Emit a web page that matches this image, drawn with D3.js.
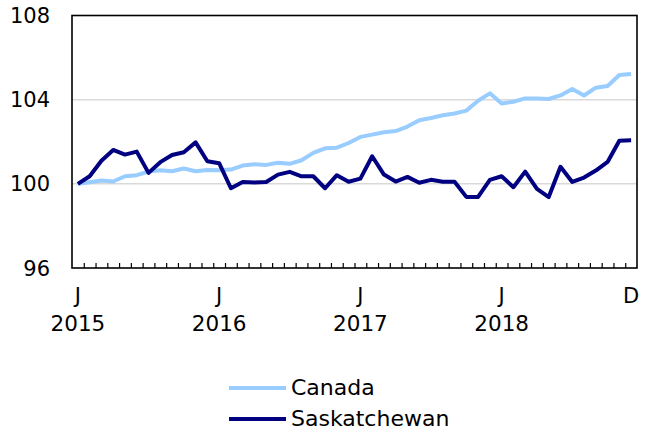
<!DOCTYPE html>
<html>
<head>
<meta charset="utf-8">
<script src="https://cdn.jsdelivr.net/npm/d3@7"></script>
<style>
  body { margin: 0; background: #fff; }
  svg text { font-family: "DejaVu Sans", Verdana, sans-serif; fill: #000; }
</style>
</head>
<body>
<figure style="margin:0"></figure>
<script>
// monthly index, Jan 2015 = 100
const months = d3.range(48).map(i => new Date(2015, i, 1));
const canada = [100, 100.08, 100.16, 100.11, 100.36, 100.41, 100.58, 100.65, 100.6, 100.73, 100.6, 100.66,
  100.65, 100.68, 100.87, 100.93, 100.9, 101.0, 100.95, 101.12, 101.47, 101.69, 101.72, 101.94,
  102.23, 102.34, 102.45, 102.51, 102.72, 103.02, 103.13, 103.26, 103.34, 103.48, 103.95, 104.3,
  103.82, 103.9, 104.06, 104.06, 104.03, 104.2, 104.51, 104.2, 104.57, 104.65, 105.17, 105.22];
const saskatchewan = [100, 100.36, 101.1, 101.61, 101.39, 101.53, 100.52, 101.03, 101.37, 101.5, 101.97, 101.07,
  100.98, 99.79, 100.09, 100.06, 100.09, 100.44, 100.57, 100.36, 100.36, 99.79, 100.41, 100.1,
  100.25, 101.31, 100.44, 100.11, 100.33, 100.05, 100.19, 100.1, 100.1, 99.38, 99.38, 100.19,
  100.36, 99.84, 100.58, 99.76, 99.37, 100.81, 100.09, 100.3, 100.63, 101.04, 102.05, 102.07];
const yTicks = [96, 100, 104, 108];
const xLabels = [
  {i: 0, top: 'J', bottom: '2015'},
  {i: 12, top: 'J', bottom: '2016'},
  {i: 24, top: 'J', bottom: '2017'},
  {i: 36, top: 'J', bottom: '2018'},
  {i: 47, top: 'D', bottom: ''}
];
const series = [
  {name: 'Canada', values: canada, color: '#99ccff'},
  {name: 'Saskatchewan', values: saskatchewan, color: '#000080'}
];

(() => {
  const totalWidth = 647;
  const totalHeight = 433;
  const margin = {top: 15.5, right: 10, bottom: 165, left: 72};
  const graphWidth = totalWidth - margin.left - margin.right;
  const graphHeight = totalHeight - margin.top - margin.bottom;

  const svg = d3.select('figure').append('svg')
    .attr('width', totalWidth)
    .attr('height', totalHeight);

  const g = svg.append('g').attr('transform', 'translate(' + margin.left + ',' + margin.top + ')');

  const x = d3.scaleLinear()
    .domain([-0.5, months.length - 0.5])
    .range([0, graphWidth]);

  const y = d3.scaleLinear()
    .domain([96, 108])
    .range([graphHeight, 0]);

  // gridlines
  g.selectAll('.grid')
    .data(yTicks.filter(t => t > 96 && t < 108))
    .enter().append('line')
      .attr('x1', 0).attr('x2', graphWidth)
      .attr('y1', d => y(d)).attr('y2', d => y(d))
      .attr('stroke', '#d9d9d9')
      .attr('stroke-width', 1.5);

  // y labels
  g.selectAll('.ylab')
    .data(yTicks)
    .enter().append('text')
      .attr('x', -22)
      .attr('y', d => y(d))
      .attr('dy', '0.36em')
      .attr('text-anchor', 'end')
      .style('font-size', '21px')
      .text(d => d);

  // month ticks inside bottom
  const tickPos = d3.range(months.length - 1).map(i => i + 0.5);
  g.append('g')
    .attr('transform', 'translate(0,' + graphHeight + ')')
    .call(d3.axisBottom(x).tickValues(tickPos).tickSize(-5).tickFormat(''))
    .call(a => a.select('.domain').remove())
    .selectAll('line').attr('stroke', '#000').attr('stroke-width', 1.2);

  // frame
  g.append('rect')
    .attr('width', graphWidth)
    .attr('height', graphHeight)
    .attr('fill', 'none')
    .attr('stroke', '#000')
    .attr('stroke-width', 1.6);

  // x labels
  const xl = g.selectAll('.xlab').data(xLabels).enter().append('g')
    .attr('transform', d => 'translate(' + x(d.i) + ',' + graphHeight + ')');
  xl.append('text').attr('y', 35).attr('text-anchor', 'middle').style('font-size', '21px').text(d => d.top);
  xl.append('text').attr('y', 63).attr('text-anchor', 'middle').style('font-size', '21.5px').text(d => d.bottom);

  const line = d3.line()
    .x((d, i) => x(i))
    .y(d => y(d));

  g.selectAll('.series')
    .data(series)
    .enter().append('path')
      .attr('fill', 'none')
      .attr('stroke', d => d.color)
      .attr('stroke-width', 4)
      .attr('stroke-linejoin', 'round')
      .attr('d', d => line(d.values));

  // legend
  const legend = svg.append('g').attr('transform', 'translate(229,388)');
  const item = legend.selectAll('g').data(series).enter().append('g')
    .attr('transform', (d, i) => 'translate(0,' + (i * 31) + ')');
  item.append('line')
    .attr('x1', 0).attr('x2', 57)
    .attr('stroke', d => d.color)
    .attr('stroke-width', 4);
  item.append('text')
    .attr('x', 62)
    .attr('dy', '0.34em')
    .style('font-size', '22px')
    .text(d => d.name);
})();
</script>
</body>
</html>
